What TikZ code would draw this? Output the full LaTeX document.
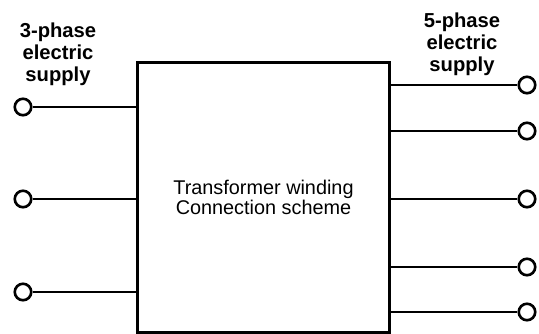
\documentclass[tikz,border=0pt]{standalone}
\usepackage{fontspec}
\setmainfont{Liberation Sans}
\usetikzlibrary{positioning}

\begin{document}
\begin{tikzpicture}[
    x=0.02cm, y=-0.02cm,
    block/.style={rectangle, draw, line width=1.7pt, minimum width=5.06cm, minimum height=5.42cm, align=center, font=\fontsize{11.3}{11.4}\selectfont},
    terminal/.style={circle, draw, line width=1.5pt, fill=white, minimum size=0.33cm, inner sep=0pt},
    supply/.style={align=center, inner sep=0pt, font=\fontsize{11.5}{12.5}\selectfont\bfseries},
    wire/.style={line width=1.6pt},
]
    \useasboundingbox (0,0) rectangle (539,334);
    \node[block] (scheme) at (263.5,197.5) {Transformer winding\\Connection scheme};

    \node[supply] (inlabel) at (58,54) {3-phase\\electric\\supply};
    \node[supply] (outlabel) at (462,44) {5-phase\\electric\\supply};

    \node[terminal] (in1) at (23,107) {};
    \node[terminal] (in2) at (23,199) {};
    \node[terminal] (in3) at (23,292) {};

    \node[terminal] (out1) at (527,85) {};
    \node[terminal] (out2) at (527,131) {};
    \node[terminal] (out3) at (527,199) {};
    \node[terminal] (out4) at (527,267) {};
    \node[terminal] (out5) at (527,312) {};

    \draw[wire] (in1) -- (in1 -| scheme.west);
    \draw[wire] (in2) -- (in2 -| scheme.west);
    \draw[wire] (in3) -- (in3 -| scheme.west);

    \draw[wire] (out1 -| scheme.east) -- (out1);
    \draw[wire] (out2 -| scheme.east) -- (out2);
    \draw[wire] (out3 -| scheme.east) -- (out3);
    \draw[wire] (out4 -| scheme.east) -- (out4);
    \draw[wire] (out5 -| scheme.east) -- (out5);
\end{tikzpicture}
\end{document}
